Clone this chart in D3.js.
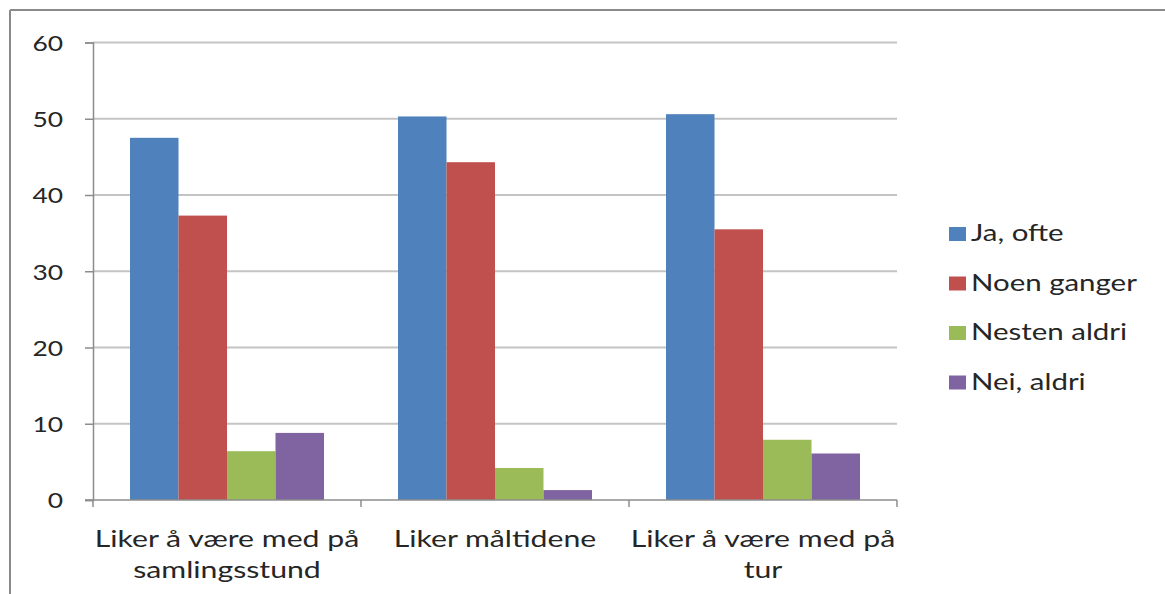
<!DOCTYPE html>
<html>
<head>
<meta charset="utf-8">
<script src="https://cdn.jsdelivr.net/npm/d3@7"></script>
<style>
  html, body { margin: 0; padding: 0; background: #fff; }
  svg { display: block; }
  text { font-family: Lato, "Open Sans", sans-serif; fill: #262626; }
</style>
</head>
<body>
<svg id="chart" width="1165" height="594"></svg>
<script>
// ---- data ----
const categories = ["Liker å være med på samlingsstund", "Liker måltidene", "Liker å være med på tur"];
const categoryLines = [["Liker å være med på", "samlingsstund"], ["Liker måltidene"], ["Liker å være med på", "tur"]];
const series = ["Ja, ofte", "Noen ganger", "Nesten aldri", "Nei, aldri"];
const jaOfte      = [47.5, 50.3, 50.6];
const noenGanger  = [37.3, 44.3, 35.5];
const nestenAldri = [6.4, 4.2, 7.9];
const neiAldri    = [8.8, 1.3, 6.1];
const seriesColors = ["#4F81BD", "#C0504D", "#9BBB59", "#8064A2"];
const yTicks = [0, 10, 20, 30, 40, 50, 60];

const seriesValues = [jaOfte, noenGanger, nestenAldri, neiAldri];
const rows = [];
categories.forEach((c, ci) => series.forEach((s, si) => rows.push({ cat: c, ser: s, value: seriesValues[si][ci] })));

// ---- layout ----
const svg = d3.select("#chart");
const plotLeft = 93, plotRight = 897, plotTop = 42.5, plotBottom = 500;
const tickFont = 22, tickSx = 1.2;
const catFont = 24, catSx = 1.26;
const legFont = 23, legSx = 1.28;

const x0 = d3.scaleBand().domain(categories).range([plotLeft, plotRight]).padding(0);
const x1 = d3.scaleBand().domain(series).range([0, x0.bandwidth()]).paddingInner(0).paddingOuter(0.763);
const y = d3.scaleLinear().domain([0, 60]).range([plotBottom, plotTop]);
const color = d3.scaleOrdinal().domain(series).range(seriesColors);

// frame (top and left border of the chart area)
svg.append("line").attr("x1", 10).attr("x2", 1165).attr("y1", 10).attr("y2", 10)
  .attr("stroke", "#8a8a8a").attr("stroke-width", 2);
svg.append("line").attr("x1", 10).attr("x2", 10).attr("y1", 10).attr("y2", 594)
  .attr("stroke", "#8a8a8a").attr("stroke-width", 2);

// gridlines
svg.append("g").selectAll("line").data(yTicks.filter(t => t > 0)).join("line")
  .attr("x1", plotLeft).attr("x2", plotRight)
  .attr("y1", d => y(d)).attr("y2", d => y(d))
  .attr("stroke", "#c4c4c4").attr("stroke-width", 2);

// y axis
const yAxis = svg.append("g").attr("transform", `translate(${plotLeft},0)`)
  .call(d3.axisLeft(y).tickValues(yTicks).tickSize(8).tickPadding(30));
yAxis.select(".domain").attr("stroke", "#8c8c8c").attr("stroke-width", 1.5);
yAxis.selectAll(".tick line").attr("stroke", "#8c8c8c").attr("stroke-width", 1.5);
yAxis.selectAll(".tick text").each(function(d) {
  const t = d3.select(this);
  t.attr("x", null).attr("dy", null)
   .attr("transform", `translate(-30,${tickFont * 0.36}) scale(${tickSx},1)`)
   .attr("text-anchor", "end")
   .style("font-size", tickFont + "px")
   .style("font-family", "Lato, 'Open Sans', sans-serif")
   .attr("fill", "#262626");
});

// bars
svg.append("g").selectAll("rect").data(rows).join("rect")
  .attr("x", d => x0(d.cat) + x1(d.ser))
  .attr("width", x1.bandwidth())
  .attr("y", d => y(d.value))
  .attr("height", d => y(0) - y(d.value))
  .attr("fill", d => color(d.ser));

// x axis line and category boundary ticks
svg.append("line").attr("x1", plotLeft - 8).attr("x2", plotRight).attr("y1", y(0)).attr("y2", y(0))
  .attr("stroke", "#8c8c8c").attr("stroke-width", 1.5);
const bounds = categories.map(c => x0(c)).concat([x0(categories[categories.length - 1]) + x0.bandwidth()]);
svg.append("g").selectAll("line").data(bounds).join("line")
  .attr("x1", d => d).attr("x2", d => d).attr("y1", y(0)).attr("y2", y(0) + 7)
  .attr("stroke", "#8c8c8c").attr("stroke-width", 1.5);

// category labels
const catG = svg.append("g");
categories.forEach((c, i) => {
  const cx = x0(c) + x0.bandwidth() / 2;
  categoryLines[i].forEach((ln, li) => {
    catG.append("text")
      .attr("transform", `translate(${cx},${547 + li * 31}) scale(${catSx},1)`)
      .attr("text-anchor", "middle")
      .style("font-size", catFont + "px")
      .text(ln);
  });
});

// legend
const legend = svg.append("g");
series.forEach((s, i) => {
  const yy = 227 + i * 49.5;
  legend.append("rect").attr("x", 949).attr("y", yy).attr("width", 17).attr("height", 14).attr("fill", color(s));
  legend.append("text")
    .attr("transform", `translate(971,${yy + 14}) scale(${legSx},1)`)
    .style("font-size", legFont + "px")
    .text(s);
});
</script>
</body>
</html>
